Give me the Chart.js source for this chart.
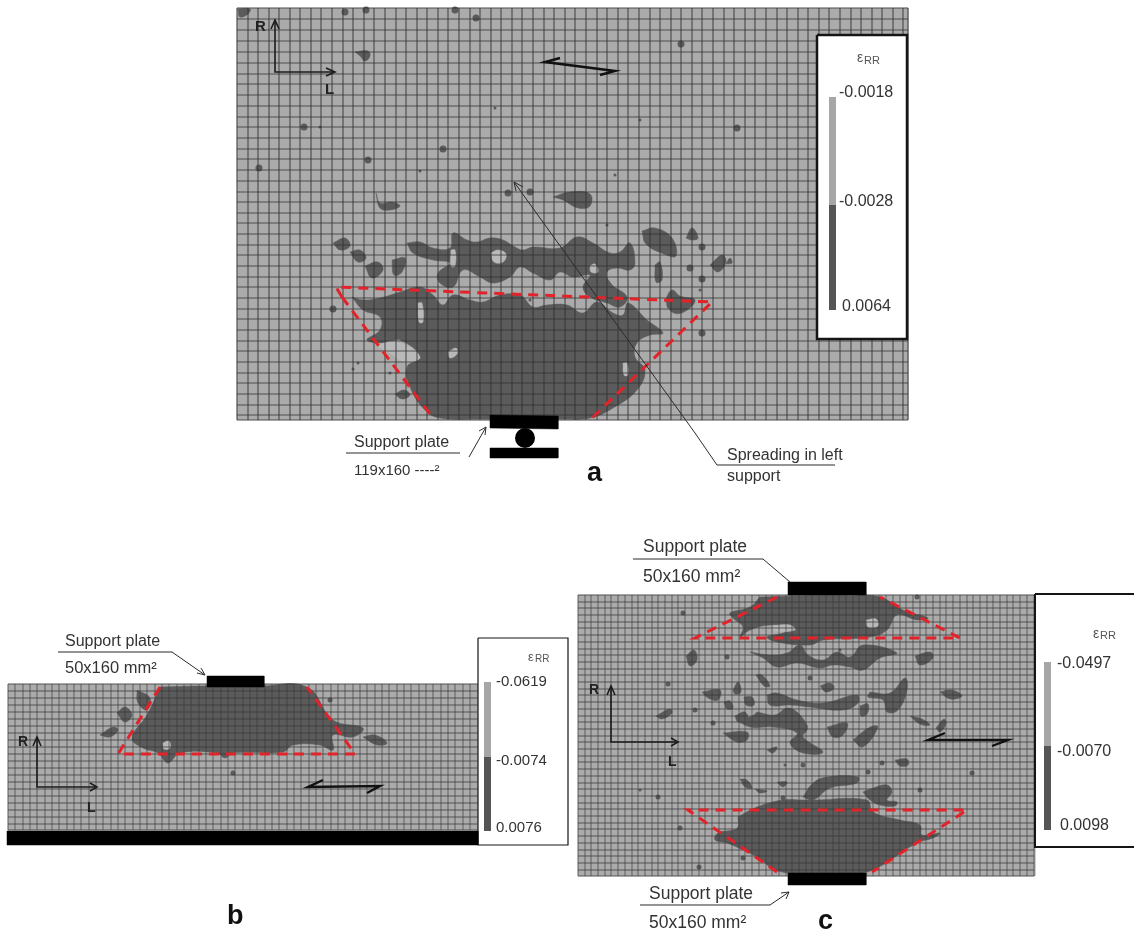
<!DOCTYPE html>
<html>
<head>
<meta charset="utf-8">
<title>Strain fields</title>
<script src="https://cdn.jsdelivr.net/npm/chart.js@4/dist/chart.umd.min.js"></script>
<style>
  body { margin: 0; background: #fff; }
  canvas { display: block; }
</style>
</head>
<body>
<canvas id="fieldChart" width="1134" height="935"></canvas>
<script>
// colour bar labels
const legendLabelsA = ['-0.0018', '-0.0028', '0.0064'];
const legendLabelsB = ['-0.0619', '-0.0074', '0.0076'];
const legendLabelsC = ['-0.0497', '-0.0070', '0.0098'];

// mesh lines
const meshAx = [237,248,258,269,279,290,300,311,321,332,343,353,364,374,385,396,406,417,427,438,448,459,470,480,491,501,512,522,533,544,554,565,575,586,597,607,618,628,639,650,660,671,681,692,702,713,724,734,745,755,766,777,787,798,808,819,829,840,851,861,872,882,893,903,908];
const meshAy = [8,19,30,41,52,63,74,84,95,106,117,127,138,149,159,170,181,192,202,213,223,234,245,255,266,277,287,298,309,319,330,341,351,362,373,383,394,405,415,420];
const meshBx = [8,15,23,30,37,45,52,59,67,74,81,89,96,103,111,118,125,133,140,147,155,162,169,177,184,191,199,206,213,221,228,235,243,250,257,265,272,279,287,294,301,309,316,323,331,338,345,353,360,367,375,382,389,397,404,411,419,426,433,441,448,455,463,470,478];
const meshBy = [684,691,698,705,712,719,726,733,740,747,754,761,768,775,782,789,796,803,810,817,824,830];
const meshCx = [578,585,591,598,605,611,618,625,632,638,645,652,658,665,672,678,685,692,699,705,712,719,725,732,739,745,752,759,766,772,779,786,792,799,806,812,819,826,833,839,846,853,859,866,873,879,886,893,900,906,913,920,926,933,940,946,953,960,967,973,980,987,993,1000,1007,1013,1020,1027,1034];
const meshCy = [595,602,608,615,622,628,635,642,649,655,662,669,675,682,689,695,702,709,716,722,729,736,742,749,756,762,769,776,783,789,796,803,809,816,823,829,836,843,850,856,863,870,876];

// dark strain zones
const zonesA = [
  [[352,297],[363,300],[380,298],[400,292],[420,287],[433,295],[443,305],[453,295],[470,300],[483,302],[500,295],[520,295],[533,307],[547,305],[567,305],[583,313],[597,302],[613,313],[623,315],[628,303],[647,320],[663,333],[650,335],[637,343],[635,357],[645,370],[637,390],[613,408],[590,418],[560,419],[520,419],[480,419],[440,418],[425,410],[410,387],[407,367],[420,357],[400,340],[387,343],[367,340],[380,330],[380,317],[363,310],[352,297]],
  [[407,243],[420,242],[433,248],[450,248],[453,233],[467,240],[477,242],[490,238],[503,240],[515,247],[523,250],[533,247],[560,248],[577,237],[593,243],[610,253],[620,252],[630,243],[635,263],[630,270],[617,268],[607,272],[610,283],[627,297],[620,307],[607,303],[590,297],[583,287],[590,275],[573,277],[560,272],[550,280],[533,273],[520,267],[510,277],[493,283],[480,277],[463,270],[453,287],[440,283],[438,273],[450,263],[433,260],[413,253],[407,243]],
  [[238,9],[250,9],[248,14],[240,17],[238,9]],
  [[355,52],[368,51],[370,56],[365,61],[360,56],[355,52]],
  [[376,193],[380,203],[392,202],[400,206],[390,210],[380,208],[376,193]],
  [[553,197],[570,192],[590,194],[590,206],[578,208],[563,200],[553,197]],
  [[333,243],[345,238],[350,246],[340,250],[333,243]],
  [[350,252],[360,250],[366,258],[358,262],[350,252]],
  [[365,266],[378,262],[383,270],[372,278],[365,266]],
  [[392,260],[405,258],[402,272],[394,275],[392,260]],
  [[442,272],[452,268],[456,282],[446,286],[442,272]],
  [[642,231],[655,228],[672,238],[676,256],[664,254],[646,244],[642,231]],
  [[686,238],[692,228],[698,238],[692,240],[686,238]],
  [[710,265],[722,255],[726,262],[718,272],[710,265]],
  [[655,265],[660,262],[662,280],[656,282],[655,265]],
  [[665,300],[672,290],[680,296],[695,300],[684,312],[672,312],[665,300]],
  [[586,285],[600,275],[612,285],[618,300],[600,300],[586,285]],
  [[395,394],[404,390],[410,395],[402,399],[395,394]],
  [[726,264],[730,258],[732,263],[726,264]]
];
const zonesB = [
  [[160,687],[200,686],[260,686],[307,687],[333,720],[363,728],[353,737],[333,735],[333,750],[320,745],[293,745],[283,752],[233,753],[225,758],[217,753],[180,753],[168,763],[158,753],[143,748],[132,738],[147,715],[160,687]],
  [[137,690],[150,698],[147,710],[138,703],[137,690]],
  [[117,713],[125,707],[132,715],[125,722],[117,713]],
  [[100,735],[113,727],[118,730],[110,737],[100,735]],
  [[363,737],[375,735],[387,743],[377,745],[363,737]]
];
const zonesC = [
  [[760,597],[800,596],[850,596],[880,597],[903,610],[928,618],[917,620],[897,615],[887,630],[870,637],[823,640],[810,645],[777,642],[767,637],[783,633],[793,627],[770,625],[750,630],[740,637],[743,627],[733,618],[730,613],[750,607],[760,597]],
  [[750,652],[770,655],[787,653],[800,645],[808,655],[823,660],[837,652],[850,657],[863,645],[897,653],[880,658],[863,670],[850,667],[833,665],[820,668],[797,663],[777,667],[763,658],[750,652]],
  [[738,817],[757,807],[783,800],[803,800],[813,800],[867,800],[873,812],[900,820],[920,825],[922,835],[940,833],[933,838],[917,843],[870,871],[840,873],[810,873],[778,871],[757,857],[743,850],[727,843],[715,840],[718,833],[733,830],[738,827],[738,817]],
  [[767,695],[777,693],[797,700],[823,703],[857,695],[858,703],[843,710],[810,707],[790,705],[770,705],[767,695]],
  [[870,692],[890,693],[905,678],[907,690],[898,710],[887,712],[883,700],[868,697],[870,692]],
  [[757,712],[775,715],[787,708],[797,712],[807,725],[807,730],[803,737],[823,752],[803,753],[790,743],[797,733],[773,727],[750,727],[740,720],[752,716],[757,712]],
  [[723,733],[747,732],[747,740],[737,742],[723,733]],
  [[827,727],[847,723],[843,735],[833,737],[827,727]],
  [[853,740],[870,727],[878,727],[863,747],[853,740]],
  [[767,750],[777,747],[773,753],[767,750]],
  [[895,760],[907,759],[908,765],[900,766],[895,760]],
  [[740,779],[747,780],[752,788],[745,787],[740,779]],
  [[777,782],[787,782],[783,787],[777,782]],
  [[755,789],[767,791],[760,793],[755,789]],
  [[803,797],[813,783],[827,777],[858,777],[857,783],[830,788],[813,800],[803,797]],
  [[863,792],[873,788],[887,785],[892,792],[887,800],[897,802],[895,806],[880,805],[870,800],[863,792]],
  [[686,656],[694,650],[697,660],[690,666],[686,656]],
  [[915,656],[930,652],[933,658],[920,665],[915,656]],
  [[940,692],[952,690],[962,696],[950,699],[940,692]],
  [[820,686],[830,683],[834,688],[826,692],[820,686]],
  [[702,692],[720,690],[718,700],[708,698],[702,692]],
  [[656,716],[670,709],[672,713],[662,719],[656,716]],
  [[756,675],[762,675],[770,686],[764,686],[756,675]],
  [[733,690],[738,682],[741,692],[735,694],[733,690]],
  [[744,697],[752,697],[754,705],[746,705],[744,697]],
  [[724,702],[730,701],[733,708],[727,709],[724,702]],
  [[910,716],[922,719],[930,725],[920,724],[910,716]],
  [[936,728],[944,719],[946,724],[940,732],[936,728]],
  [[860,706],[868,704],[867,714],[861,716],[860,706]],
  [[735,716],[745,712],[748,722],[738,722],[735,716]]
];

// pale pockets inside the dark zones
const pocketsA = [
  [[451,250],[455,250],[455,266],[451,266],[451,250]],
  [[491,253],[498,250],[506,254],[503,262],[494,262],[491,253]],
  [[418,303],[422,303],[423,322],[419,322],[418,303]],
  [[448,352],[456,348],[457,354],[450,358],[448,352]],
  [[623,363],[627,363],[628,375],[624,375],[623,363]],
  [[590,266],[595,264],[598,272],[591,272],[590,266]],
  [[375,345],[398,342],[420,357],[405,362],[388,352],[375,345]]
];
const pocketsB = [
  [[163,743],[169,741],[170,748],[164,749],[163,743]]
];
const pocketsC = [
  [[866,620],[876,619],[878,626],[868,627],[866,620]],
  [[772,626],[790,625],[795,630],[775,631],[772,626]]
];

// isolated dark specks
const specksA = [[304,127],[443,149],[368,160],[259,168],[508,193],[530,192],[476,18],[455,10],[345,12],[366,10],[737,128],[681,44],[702,247],[690,268],[702,279],[702,333],[333,309],[670,305]];
const specksB = [[233,773],[330,700]];
const specksC = [[683,613],[668,684],[917,597],[727,657],[695,710],[810,678],[713,723],[920,790],[972,773],[658,797],[803,765],[868,772],[882,763],[783,798],[743,858],[699,867],[680,828]];
const tinySpecks = [[420,171],[495,108],[607,225],[358,363],[390,373],[353,369],[320,127],[615,175],[640,120],[530,300],[700,290],[785,765],[640,790],[840,650]];

// dashed spreading outlines
const redA = [[342,297],[336,287],[712,302],[588,422]];
const redA2 = [[342,297],[433,418]];
const redB = [[160,687],[118,754],[355,754],[307,687]];
const redC1 = [[777,597],[695,638],[960,638],[880,597]];
const redC2 = [[777,872],[688,810],[967,810],[872,872]];

// plates
const platesBlack = [
  [[490,415],[558,416],[558,429],[490,428],[490,415]],
  [[490,448],[558,448],[558,458],[490,458],[490,448]],
  [[207,676],[264,676],[264,687],[207,687],[207,676]],
  [[7,831],[478,831],[478,845],[7,845],[7,831]],
  [[788,582],[866,582],[866,595],[788,595],[788,582]],
  [[788,873],[866,873],[866,885],[788,885],[788,873]]
];
const ball = [[525,438]];

// arrows and leader lines
const heavyLines = [
  [[275,20],[275,72],[333,72]], [[271,29],[275,20],[279,29]], [[326,68],[335,72],[326,76]],
  [[37,737],[37,787],[96,787]], [[33,746],[37,737],[41,746]], [[90,783],[97,787],[90,791]],
  [[611,686],[611,742],[677,742]], [[607,695],[611,686],[615,695]], [[671,738],[678,742],[671,746]]
];
const doubleArrows = [
  [[560,58],[545,62],[615,71],[600,75]],
  [[323,780],[308,787],[380,786],[367,793]],
  [[945,733],[928,740],[1008,740],[992,746]]
];
const thinLines = [
  [[514,182],[695,433],[717,465],[835,465]], [[514,182],[516,191]], [[514,182],[523,187]],
  [[346,453],[460,453]], [[469,457],[486,427]], [[486,427],[479,431]], [[486,427],[485,435]],
  [[58,652],[172,652],[205,675]], [[205,675],[197,673]], [[205,675],[201,668]],
  [[633,559],[763,559],[790,582]],
  [[640,905],[770,905],[789,892]], [[789,892],[781,893]], [[789,892],[786,899]]
];

// legend frames and colour bars
const legendBoxes = [
  { box: [[817,35],[907,35],[907,339],[817,339],[817,35]], width: 2.5 },
  { box: [[478,638],[568,638],[568,845],[478,845],[478,638]], width: 1.2 },
  { box: [[1035,594],[1140,594],[1140,847],[1035,847],[1035,594]], width: 2 }
];
const barsLight = [[[832.5,97],[832.5,205]], [[487.5,682],[487.5,757]], [[1047.5,662],[1047.5,746]]];
const barsDark = [[[832.5,205],[832.5,310]], [[487.5,757],[487.5,831]], [[1047.5,746],[1047.5,830]]];

const LIGHT = '#ababab', DARK = '#5b5b5b', RED = '#e2232a';
const datasets = [];

function addLine(points, color, width, dash) {
  datasets.push({
    data: points, showLine: true, pointRadius: 0, fill: false, borderColor: color,
    borderWidth: width, borderDash: dash || [], tension: 0
  });
}
function addShape(points, color, tension) {
  datasets.push({
    data: points, showLine: true, pointRadius: 0, fill: 'shape', backgroundColor: color,
    borderColor: color, borderWidth: 0.5, tension: tension
  });
}
function addSpecks(points, color, radius) {
  datasets.push({
    data: points, showLine: false, pointRadius: radius, pointBackgroundColor: color,
    pointBorderWidth: 0, backgroundColor: color
  });
}
function addMesh(xs, ys, color, width) {
  const x0 = xs[0], x1 = xs[xs.length - 1], y0 = ys[0], y1 = ys[ys.length - 1];
  xs.forEach(function(x) { addLine([[x, y0], [x, y1]], color, width); });
  ys.forEach(function(y) { addLine([[x0, y], [x1, y]], color, width); });
}

// panel backgrounds
addShape([[237,8],[908,8],[908,420],[237,420],[237,8]], LIGHT, 0);
addShape([[8,684],[478,684],[478,830],[8,830],[8,684]], LIGHT, 0);
addShape([[578,595],[1035,595],[1035,876],[578,876],[578,595]], LIGHT, 0);

[zonesA, zonesB, zonesC].forEach(function(set) {
  set.forEach(function(z) { addShape(z, DARK, 0.42); });
});
[pocketsA, pocketsB, pocketsC].forEach(function(set) {
  set.forEach(function(z) { addShape(z, '#b9b9b9', 0.42); });
});
addSpecks(specksA, DARK, 3.5);
addSpecks(specksB, DARK, 2.5);
addSpecks(specksC, DARK, 2.5);
addSpecks(tinySpecks, DARK, 1.5);

addMesh(meshAx, meshAy, 'rgba(50,50,50,0.75)', 1.2);
addMesh(meshBx, meshBy, 'rgba(55,55,55,0.5)', 1.3);
addMesh(meshCx, meshCy, 'rgba(55,55,55,0.5)', 1.3);

legendBoxes.forEach(function(l) {
  addShape(l.box, '#ffffff', 0);
  addLine(l.box, '#151515', l.width);
});
barsLight.forEach(function(b) { addLine(b, '#a6a6a6', 7); });
barsDark.forEach(function(b) { addLine(b, '#555555', 7); });

platesBlack.forEach(function(p) { addShape(p, '#000000', 0); });
addSpecks(ball, '#000000', 10);

addLine(redA, RED, 3, [10, 7]);
addLine(redA2, RED, 3, [10, 7]);
addLine(redB, RED, 3, [10, 7]);
addLine(redC1, RED, 3, [10, 7]);
addLine(redC2, RED, 3, [10, 7]);

heavyLines.forEach(function(l) { addLine(l, '#1c1c1c', 1.6); });
doubleArrows.forEach(function(l) { addLine(l, '#111111', 2.4); });
thinLines.forEach(function(l) { addLine(l, '#2b2b2b', 1); });

// first dataset at the bottom of the stack
datasets.forEach(function(d, i) { d.order = -i; });

const BODY = '"Liberation Sans", Arial, sans-serif';
function textRows() {
  return [
    ['R', 255, 27, 'bold 15px ' + BODY, '#222'],
    ['L', 325, 90, 'bold 15px ' + BODY, '#222'],
    ['R', 18, 742, 'bold 14px ' + BODY, '#222'],
    ['L', 87, 808, 'bold 14px ' + BODY, '#222'],
    ['R', 589, 690, 'bold 14px ' + BODY, '#222'],
    ['L', 668, 762, 'bold 14px ' + BODY, '#222'],
    ['a', 587, 474, 'bold 27px ' + BODY, '#111'],
    ['b', 227, 917, 'bold 27px ' + BODY, '#111'],
    ['c', 818, 922, 'bold 27px ' + BODY, '#111'],
    ['Support plate', 354, 443, '16px ' + BODY, '#333'],
    ['119x160 ----²', 354, 471, '15px ' + BODY, '#333'],
    ['Spreading in left', 727, 456, '16px ' + BODY, '#333'],
    ['support', 727, 477, '16px ' + BODY, '#333'],
    ['Support plate', 65, 642, '16px ' + BODY, '#333'],
    ['50x160 mm²', 65, 668, '16.5px ' + BODY, '#333'],
    ['Support plate', 643, 547, '17.5px ' + BODY, '#333'],
    ['50x160 mm²', 643, 577, '17.5px ' + BODY, '#333'],
    ['Support plate', 649, 894, '17.5px ' + BODY, '#333'],
    ['50x160 mm²', 649, 923, '17.5px ' + BODY, '#333'],
    ['ε', 857, 58, '14px ' + BODY, '#555'], ['RR', 864, 61, '11px ' + BODY, '#555'],
    ['ε', 528, 657, '13px ' + BODY, '#555'], ['RR', 535, 659, '10px ' + BODY, '#555'],
    ['ε', 1093, 634, '14px ' + BODY, '#555'], ['RR', 1100, 636, '11px ' + BODY, '#555'],
    [legendLabelsA[0], 839, 93, '16px ' + BODY, '#333'],
    [legendLabelsA[1], 839, 202, '16px ' + BODY, '#333'],
    [legendLabelsA[2], 842, 307, '16px ' + BODY, '#333'],
    [legendLabelsB[0], 496, 682, '15px ' + BODY, '#333'],
    [legendLabelsB[1], 496, 761, '15px ' + BODY, '#333'],
    [legendLabelsB[2], 496, 828, '15px ' + BODY, '#333'],
    [legendLabelsC[0], 1057, 664, '16px ' + BODY, '#333'],
    [legendLabelsC[1], 1057, 752, '16px ' + BODY, '#333'],
    [legendLabelsC[2], 1060, 826, '16px ' + BODY, '#333']
  ];
}

const textPlugin = {
  id: 'panelText',
  afterDraw: function(chart) {
    const ctx = chart.ctx, sx = chart.scales.x, sy = chart.scales.y;
    ctx.save();
    ctx.textAlign = 'left';
    ctx.textBaseline = 'middle';
    textRows().forEach(function(r) {
      ctx.font = r[3];
      ctx.fillStyle = r[4];
      ctx.fillText(r[0], sx.getPixelForValue(r[1]), sy.getPixelForValue(r[2]));
    });
    ctx.restore();
  }
};

new Chart(document.getElementById('fieldChart').getContext('2d'), {
  type: 'scatter',
  data: { datasets: datasets },
  plugins: [textPlugin],
  options: {
    responsive: false,
    animation: false,
    layout: { padding: 0, autoPadding: false },
    plugins: { legend: { display: false }, tooltip: { enabled: false } },
    scales: {
      x: { type: 'linear', min: 0, max: 1134, display: false },
      y: { type: 'linear', min: 0, max: 935, reverse: true, display: false }
    }
  }
});
</script>
</body>
</html>
